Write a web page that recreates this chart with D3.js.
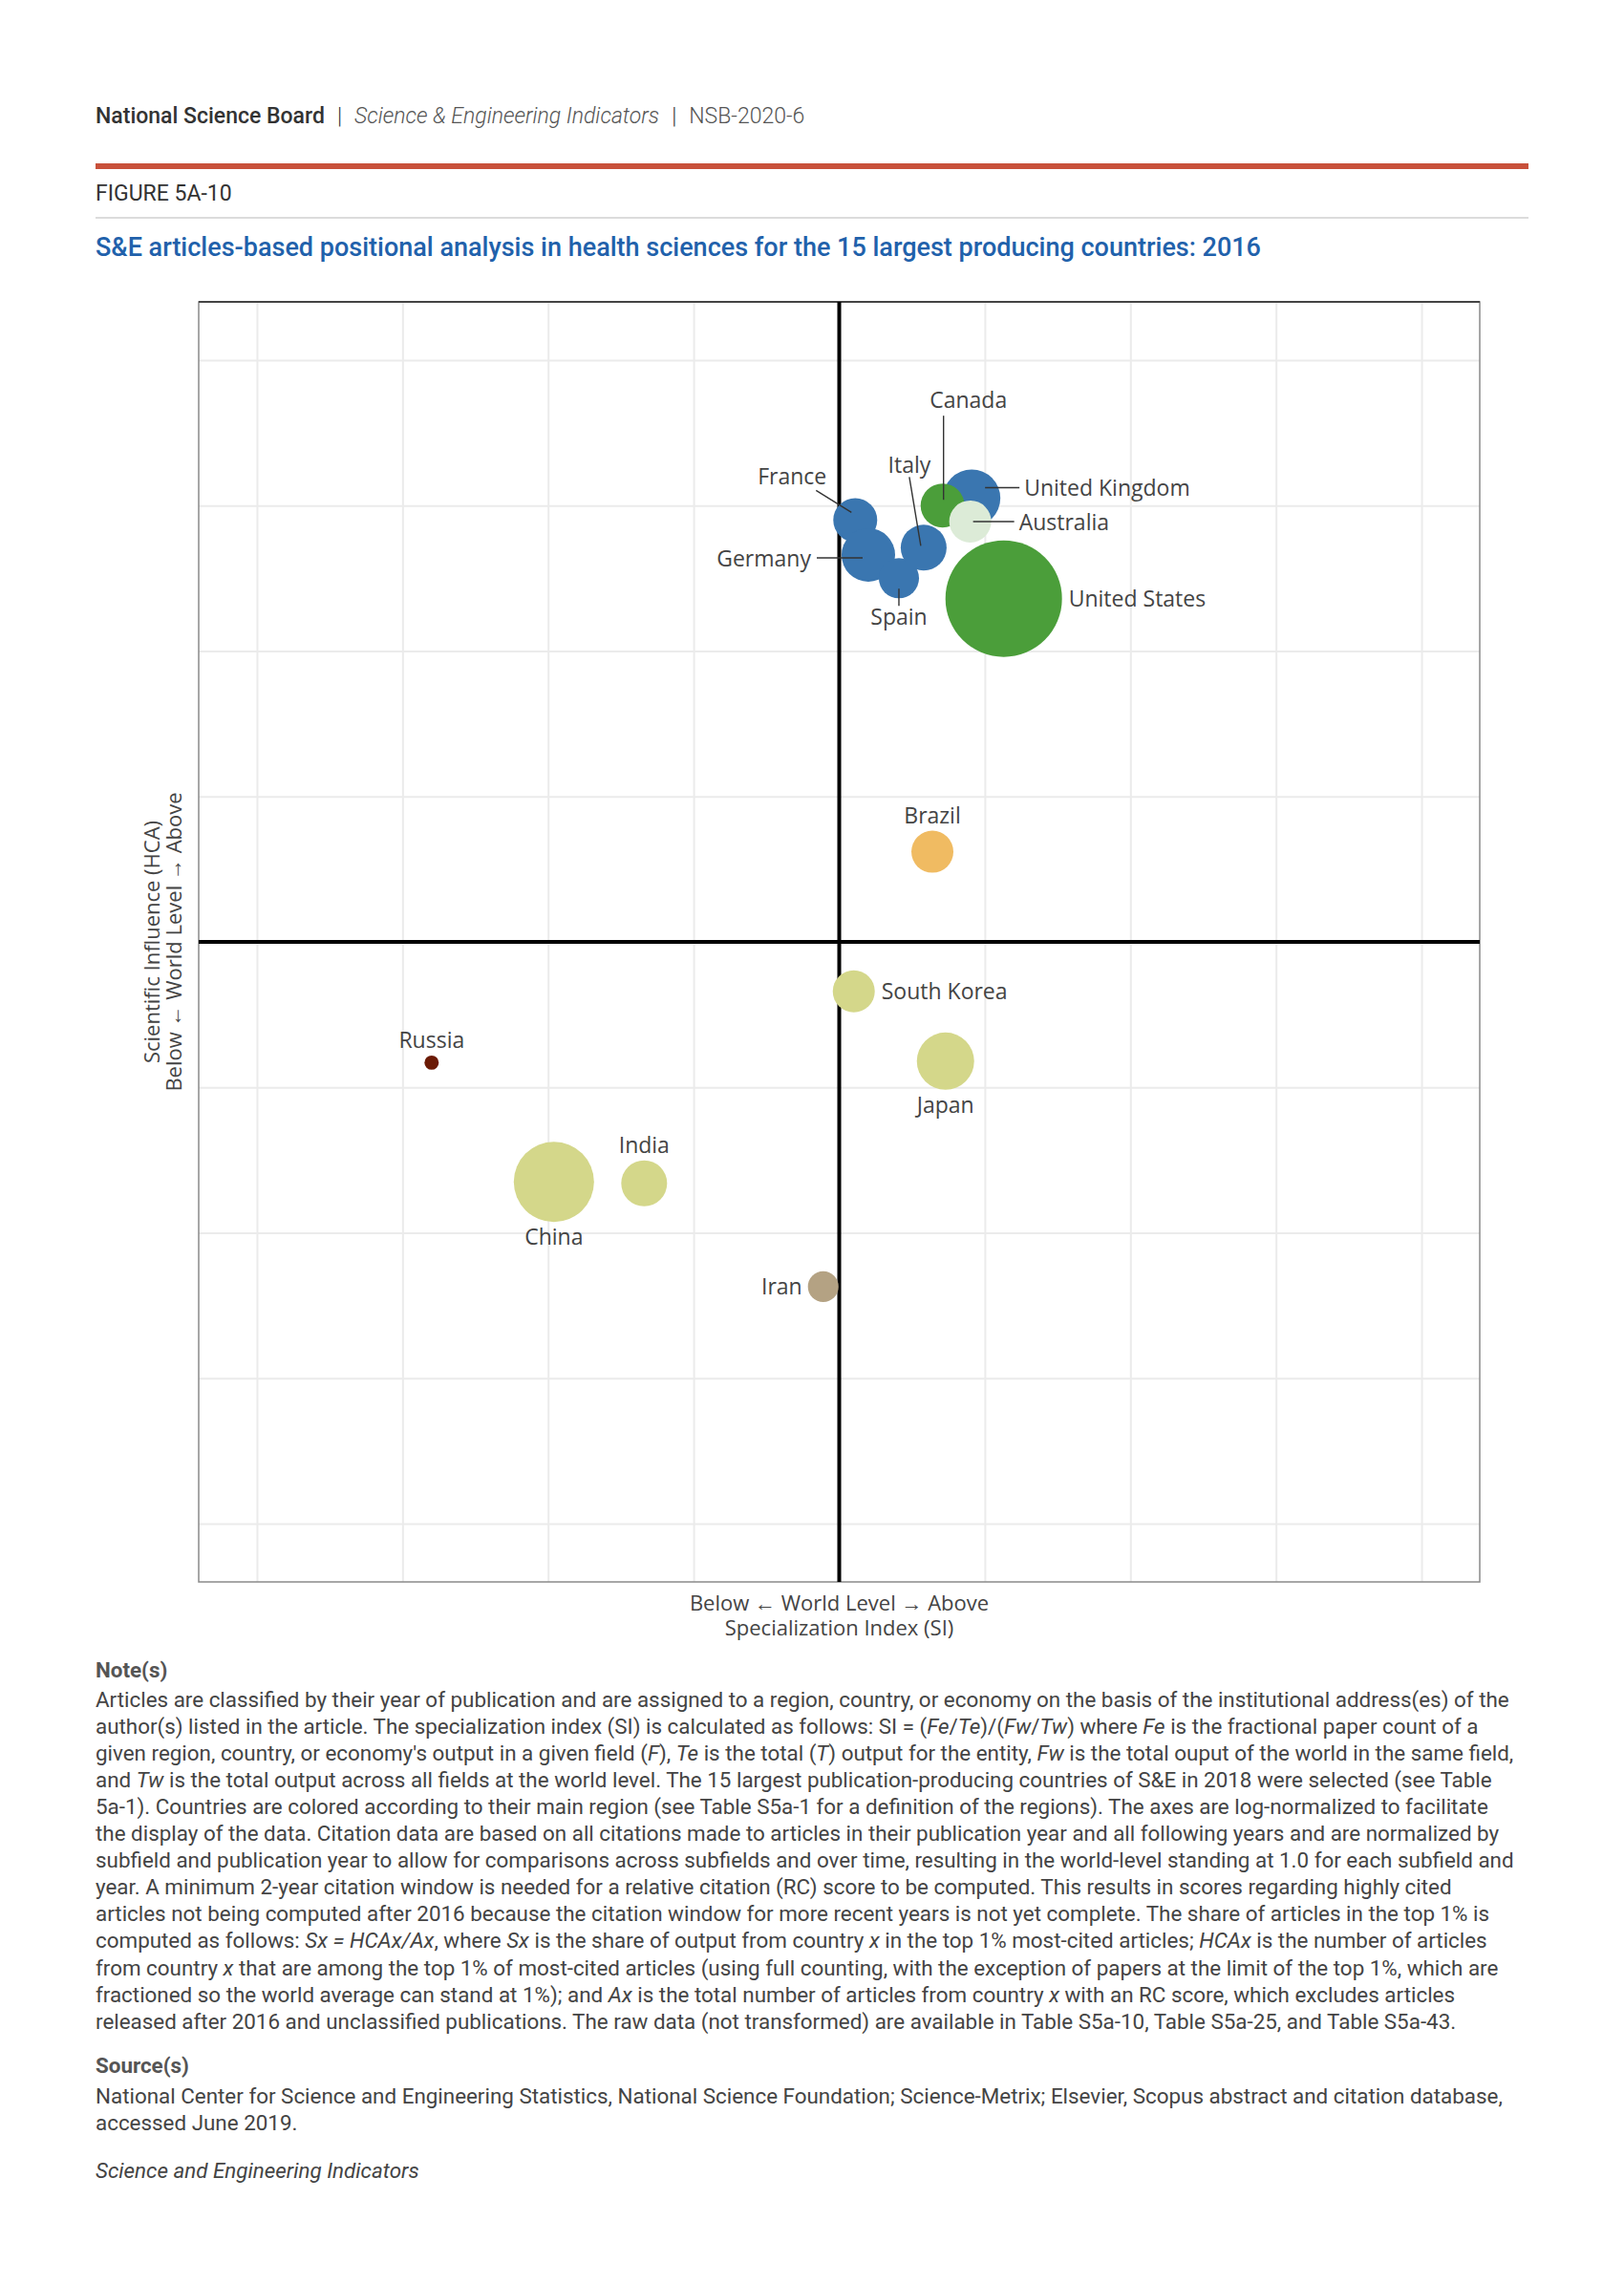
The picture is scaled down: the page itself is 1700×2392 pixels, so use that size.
<!DOCTYPE html>
<html>
<head>
<meta charset="utf-8">
<script src="https://cdn.jsdelivr.net/npm/d3@7"></script>
<style>
  body { margin: 0; background: #fff; }
  svg { display: block; }
</style>
</head>
<body>
<svg id="chart" width="1700" height="2392"></svg>
<script>
// values (axes in log-normalized units, 0 = world level)
const countries = ["France", "United Kingdom", "Germany", "Spain", "Italy", "Canada", "Australia", "United States",
  "Brazil", "South Korea", "Japan", "Russia", "China", "India", "Iran"];
const si  = [0.11, 0.91, 0.20, 0.41, 0.58, 0.71, 0.90, 1.13, 0.64, 0.10, 0.73, -2.80, -1.96, -1.34, -0.11];
const hca = [2.90, 3.05, 2.66, 2.50, 2.71, 3.00, 2.89, 2.36, 0.62, -0.34, -0.82, -0.83, -1.65, -1.66, -2.37];
const output = [14.2, 24.2, 21.1, 11.9, 15.5, 14.2, 13.0, 100, 13.0, 13.0, 24.2, 1.5, 47.4, 15.5, 6.9];
const region = ["Europe", "Europe", "Europe", "Europe", "Europe", "North America", "Australia", "North America",
  "South America", "Asia", "Asia", "Russia", "Asia", "Asia", "Middle East"];
const gridTicks = [-4, -3, -2, -1, 0, 1, 2, 3, 4];

const noteLines = [
  "Articles are classified by their year of publication and are assigned to a region, country, or economy on the basis of the institutional address(es) of the",
  "author(s) listed in the article. The specialization index (SI) is calculated as follows: SI = (*Fe*/*Te*)/(*Fw*/*Tw*) where *Fe* is the fractional paper count of a",
  "given region, country, or economy's output in a given field (*F*), *Te* is the total (*T*) output for the entity, *Fw* is the total ouput of the world in the same field,",
  "and *Tw* is the total output across all fields at the world level. The 15 largest publication-producing countries of S&E in 2018 were selected (see Table",
  "5a-1). Countries are colored according to their main region (see Table S5a-1 for a definition of the regions). The axes are log-normalized to facilitate",
  "the display of the data. Citation data are based on all citations made to articles in their publication year and all following years and are normalized by",
  "subfield and publication year to allow for comparisons across subfields and over time, resulting in the world-level standing at 1.0 for each subfield and",
  "year. A minimum 2-year citation window is needed for a relative citation (RC) score to be computed. This results in scores regarding highly cited",
  "articles not being computed after 2016 because the citation window for more recent years is not yet complete. The share of articles in the top 1% is",
  "computed as follows: *Sx = HCAx/Ax*, where *Sx* is the share of output from country *x* in the top 1% most-cited articles; *HCAx* is the number of articles",
  "from country *x* that are among the top 1% of most-cited articles (using full counting, with the exception of papers at the limit of the top 1%, which are",
  "fractioned so the world average can stand at 1%); and *Ax* is the total number of articles from country *x* with an RC score, which excludes articles",
  "released after 2016 and unclassified publications. The raw data (not transformed) are available in Table S5a-10, Table S5a-25, and Table S5a-43."
];
const sourceLines = [
  "National Center for Science and Engineering Statistics, National Science Foundation; Science-Metrix; Elsevier, Scopus abstract and citation database,",
  "accessed June 2019."
];

const regionColor = {
  "Europe": "#3a76b0",
  "North America": "#4b9e3a",
  "Australia": "#dcebd7",
  "South America": "#f0bb62",
  "Asia": "#d4d78a",
  "Russia": "#6b1a05",
  "Middle East": "#b4a283"
};

// label placement: side of the bubble, or explicit offset + leader line for the crowded cluster
const labelPlace = {
  "France":         { dx: -30, dy: -37, anchor: "end", lead: [-41, -31, -4, -8] },
  "United Kingdom": { dx: 55, dy: -3, anchor: "start", lead: [14, -11, 50, -11] },
  "Germany":        { dx: -60, dy: 12, anchor: "end", lead: [-54, 3, -6, 3] },
  "Spain":          { dx: 0, dy: 49, anchor: "middle", lead: [0, 11, 0, 29] },
  "Italy":          { dx: -15, dy: -78, anchor: "middle", lead: [-15, -74, -3, -2] },
  "Canada":         { dx: 27, dy: -102, anchor: "middle", lead: [1, -94, 1, -6] },
  "Australia":      { dx: 51, dy: 9, anchor: "start", lead: [3, 0, 46, 0] },
  "United States":  { side: "right" },
  "Brazil":         { side: "top" },
  "South Korea":    { side: "right" },
  "Japan":          { side: "bottom" },
  "Russia":         { side: "top" },
  "China":          { side: "bottom" },
  "India":          { side: "top" },
  "Iran":           { side: "left" }
};

const svg = d3.select("#chart");
const TXT = "#444";

// ---- header ----
const hdr = svg.append("text").attr("x", 100).attr("y", 129)
  .attr("font-family", "Roboto").attr("font-size", 23).attr("fill", "#333");
hdr.append("tspan").attr("font-weight", 500).text("National Science Board");
hdr.append("tspan").attr("font-weight", 300).attr("dx", 13).text("|");
hdr.append("tspan").attr("font-weight", 300).attr("font-style", "italic").attr("dx", 13).attr("fill", "#555").text("Science & Engineering Indicators");
hdr.append("tspan").attr("font-weight", 300).attr("dx", 13).text("|");
hdr.append("tspan").attr("font-weight", 300).attr("dx", 13).attr("fill", "#555").text("NSB-2020-6");

svg.append("rect").attr("x", 100).attr("y", 171).attr("width", 1500).attr("height", 6).attr("fill", "#c8503a");
svg.append("text").attr("x", 100).attr("y", 210)
  .attr("font-family", "Roboto").attr("font-size", 23).attr("fill", "#333").text("FIGURE 5A-10");
svg.append("rect").attr("x", 100).attr("y", 227).attr("width", 1500).attr("height", 2).attr("fill", "#dcdcdc");
svg.append("text").attr("x", 100).attr("y", 268)
  .attr("font-family", "Roboto").attr("font-weight", 500).attr("font-size", 27).attr("fill", "#2161ab")
  .text("S&E articles-based positional analysis in health sciences for the 15 largest producing countries: 2016");

// ---- plot ----
const L = 208, R = 1549, T = 316, B = 1656;
const x = d3.scaleLinear().domain([-4.4, 4.4]).range([L, R]);
const y = d3.scaleLinear().domain([-4.4, 4.4]).range([B, T]);
const r = d3.scaleSqrt().domain([0, 100]).range([0, 61]);

const plot = svg.append("g");

plot.append("g").attr("transform", `translate(0,${B})`)
  .call(d3.axisBottom(x).tickValues(gridTicks).tickSize(-(B - T)).tickFormat(""))
  .call(g => g.select(".domain").remove())
  .call(g => g.selectAll(".tick line").attr("stroke", "#ebebeb").attr("stroke-width", 2));
plot.append("g").attr("transform", `translate(${L},0)`)
  .call(d3.axisLeft(y).tickValues(gridTicks).tickSize(-(R - L)).tickFormat(""))
  .call(g => g.select(".domain").remove())
  .call(g => g.selectAll(".tick line").attr("stroke", "#ebebeb").attr("stroke-width", 2));

plot.append("rect").attr("x", L).attr("y", T).attr("width", R - L).attr("height", B - T)
  .attr("fill", "none").attr("stroke", "#8a8a8a").attr("stroke-width", 1.5);
plot.append("line").attr("x1", L).attr("x2", R).attr("y1", T).attr("y2", T)
  .attr("stroke", "#444").attr("stroke-width", 2);

// world-level lines
plot.append("line").attr("x1", x(0)).attr("x2", x(0)).attr("y1", T).attr("y2", B)
  .attr("stroke", "#000").attr("stroke-width", 4);
plot.append("line").attr("x1", L).attr("x2", R).attr("y1", y(0)).attr("y2", y(0))
  .attr("stroke", "#000").attr("stroke-width", 4);

const pts = countries.map((c, i) => ({ name: c, si: si[i], hca: hca[i], out: output[i], region: region[i] }));

plot.selectAll("circle.bub").data(pts).enter().append("circle")
  .attr("class", "bub")
  .attr("cx", d => x(d.si)).attr("cy", d => y(d.hca))
  .attr("r", d => r(d.out))
  .attr("fill", d => regionColor[d.region]);

// labels
const lab = plot.append("g").attr("font-family", "Open Sans").attr("font-size", 23).attr("fill", TXT);
pts.forEach(d => {
  const cx = x(d.si), cy = y(d.hca), rr = r(d.out), p = labelPlace[d.name];
  let tx, ty, anchor;
  if (p.side === "right") { tx = cx + rr + 7; ty = cy + 8; anchor = "start"; }
  else if (p.side === "left") { tx = cx - rr - 6; ty = cy + 8; anchor = "end"; }
  else if (p.side === "top") { tx = cx; ty = cy - rr - 8; anchor = "middle"; }
  else if (p.side === "bottom") { tx = cx; ty = cy + rr + 24; anchor = "middle"; }
  else { tx = cx + p.dx; ty = cy + p.dy; anchor = p.anchor; }
  if (p.lead) {
    lab.append("line")
      .attr("x1", cx + p.lead[0]).attr("y1", cy + p.lead[1])
      .attr("x2", cx + p.lead[2]).attr("y2", cy + p.lead[3])
      .attr("stroke", "#333").attr("stroke-width", 1.4);
  }
  lab.append("text").attr("x", tx).attr("y", ty).attr("text-anchor", anchor).text(d.name);
});

// axis titles
const ax = svg.append("g").attr("font-family", "Open Sans").attr("font-size", 22).attr("fill", TXT)
  .attr("text-anchor", "middle");
ax.append("text").attr("x", x(0)).attr("y", 1686).text("Below \u2190 World Level \u2192 Above");
ax.append("text").attr("x", x(0)).attr("y", 1712).text("Specialization Index (SI)");
const yc = y(0);
ax.append("text").attr("transform", `translate(166.5,${yc}) rotate(-90)`).text("Scientific Influence (HCA)");
ax.append("text").attr("transform", `translate(190,${yc}) rotate(-90)`).text("Below \u2190 World Level \u2192 Above");

// ---- notes ----
const notes = svg.append("g").attr("font-family", "Roboto").attr("font-size", 22.4).attr("fill", TXT);
function richLine(sel, s, xx, yy) {
  const t = sel.append("text").attr("x", xx).attr("y", yy);
  s.split("*").forEach((part, i) => {
    if (!part) return;
    t.append("tspan").attr("font-style", i % 2 ? "italic" : null).text(part);
  });
  return t;
}
notes.append("text").attr("x", 100).attr("y", 1756).attr("font-weight", 700).attr("fill", "#555").text("Note(s)");
noteLines.forEach((s, i) => richLine(notes, s, 100, 1787 + i * 28.05));
notes.append("text").attr("x", 100).attr("y", 2170).attr("font-weight", 700).attr("fill", "#555").text("Source(s)");
sourceLines.forEach((s, i) => richLine(notes, s, 100, 2202 + i * 28));
notes.append("text").attr("x", 100).attr("y", 2280).attr("font-style", "italic").text("Science and Engineering Indicators");
</script>
</body>
</html>
